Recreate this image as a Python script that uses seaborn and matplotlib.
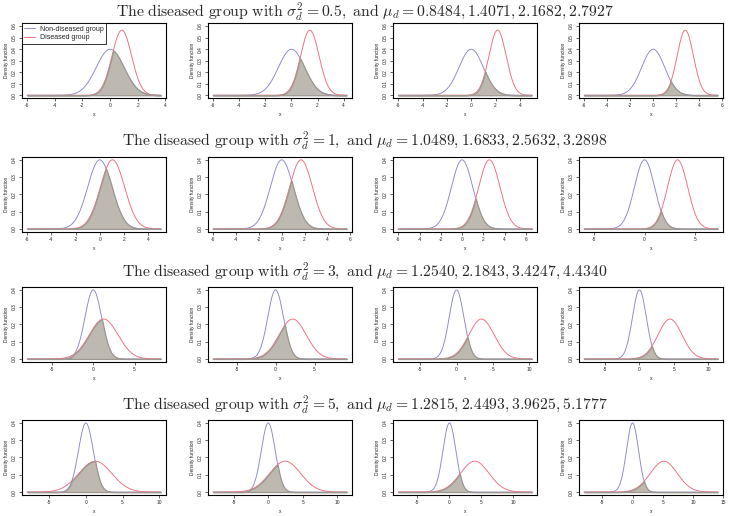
import numpy as np
import pandas as pd
import matplotlib
matplotlib.use("Agg")
import matplotlib.pyplot as plt
import seaborn as sns

sns.set_theme(style="ticks")
plt.rcParams["mathtext.fontset"] = "cm"
plt.rcParams["font.family"] = ["Liberation Sans", "DejaVu Sans"]

# parameters of the diseased group, one row of panels per variance
sigma2_d = [0.5, 1, 3, 5]
sigma2_txt = ["0.5", "1", "3", "5"]
mu_d = [
    [0.8484, 1.4071, 2.1682, 2.7927],
    [1.0489, 1.6833, 2.5632, 3.2898],
    [1.2540, 2.1843, 3.4247, 4.4340],
    [1.2815, 2.4493, 3.9625, 5.1777],
]
mu_txt = [
    ["0.8484", "1.4071", "2.1682", "2.7927"],
    ["1.0489", "1.6833", "2.5632", "3.2898"],
    ["1.2540", "2.1843", "3.4247", "4.4340"],
    ["1.2815", "2.4493", "3.9625", "5.1777"],
]
x_lower = [-6, -6, -8, -8]
legend_labels = ["Non-diseased group", "Diseased group"]

col_blue = "#908ecc"
col_red = "#f07484"
col_fill = "#bdb8b0"


def npdf(x, m, s):
    return np.exp(-0.5 * ((x - m) / s) ** 2) / (s * np.sqrt(2 * np.pi))


fig = plt.figure(figsize=(7.29, 5.16), dpi=100)

row_top = [0.955, 0.696, 0.444, 0.186]
row_h = 0.145
col_left = [0.030, 0.285, 0.539, 0.794]
col_w = 0.198
title_y = [0.978, 0.727, 0.473, 0.215]

for i, s2 in enumerate(sigma2_d):
    sd = np.sqrt(s2)
    title = (r"$\mathrm{The\ diseased\ group\ with\ }\sigma_d^2 = " + sigma2_txt[i]
             + r",\ \mathrm{and}\ \mu_d = " + ",".join(mu_txt[i]) + "$")
    fig.text(0.5, title_y[i], title, ha="center", va="center", fontsize=11.3)
    for j, m in enumerate(mu_d[i]):
        ax = fig.add_axes([col_left[j], row_top[i] - row_h, col_w, row_h])
        x = np.linspace(x_lower[i], m + 4 * sd, 500)
        d0 = npdf(x, 0, 1)
        d1 = npdf(x, m, sd)
        df = pd.DataFrame({"x": x, "d0": d0, "d1": d1})
        sns.lineplot(data=df, x="x", y="d0", ax=ax, color=col_blue, lw=0.7,
                     label=legend_labels[0] if (i == 0 and j == 0) else None)
        sns.lineplot(data=df, x="x", y="d1", ax=ax, color=col_red, lw=0.7,
                     label=legend_labels[1] if (i == 0 and j == 0) else None)
        ax.fill_between(df["x"], 0, np.minimum(df["d0"], df["d1"]),
                        facecolor=col_fill, edgecolor="#9d988f", linewidth=0.9,
                        zorder=3)
        lo, hi = x.min(), x.max()
        pad = 0.04 * (hi - lo)
        ax.set_xlim(lo - pad, hi + pad)
        ymax = max(d0.max(), d1.max())
        ytop = np.round(ymax + 0.01, 1)
        top = max(ymax, ytop)
        ax.set_ylim(-0.04 * top, top * 1.04)
        step = 5 if (hi - lo + 2 * pad) > 14 else 2
        ticks = np.arange(np.ceil((lo - pad) / step) * step, hi + pad + 1e-9, step)
        ax.set_xticks(ticks)
        ax.set_xticklabels([f"{t:g}" for t in ticks])
        yt = np.arange(0, ytop + 1e-9, 0.1)
        ax.set_yticks(yt)
        ax.set_yticklabels([f"{t:.1f}" for t in yt], rotation=90, va="center")
        ax.tick_params(labelsize=3.5, length=2, width=0.5, pad=1.5)
        ax.set_xlabel("x", fontsize=3.5, labelpad=3)
        ax.set_ylabel("Density function", fontsize=3.5, labelpad=2)
        for sp in ax.spines.values():
            sp.set_visible(True)
            sp.set_linewidth(0.8)
            sp.set_color("black")
        if i == 0 and j == 0:
            leg = ax.legend(loc="upper left", fontsize=5.0, frameon=True,
                            fancybox=False, borderaxespad=0.0, handlelength=1.6,
                            borderpad=0.35, labelspacing=0.25, handletextpad=0.6)
            leg.get_frame().set_edgecolor("black")
            leg.get_frame().set_linewidth(0.7)
            leg.set_zorder(5)

fig.savefig("out.png", dpi=100)
